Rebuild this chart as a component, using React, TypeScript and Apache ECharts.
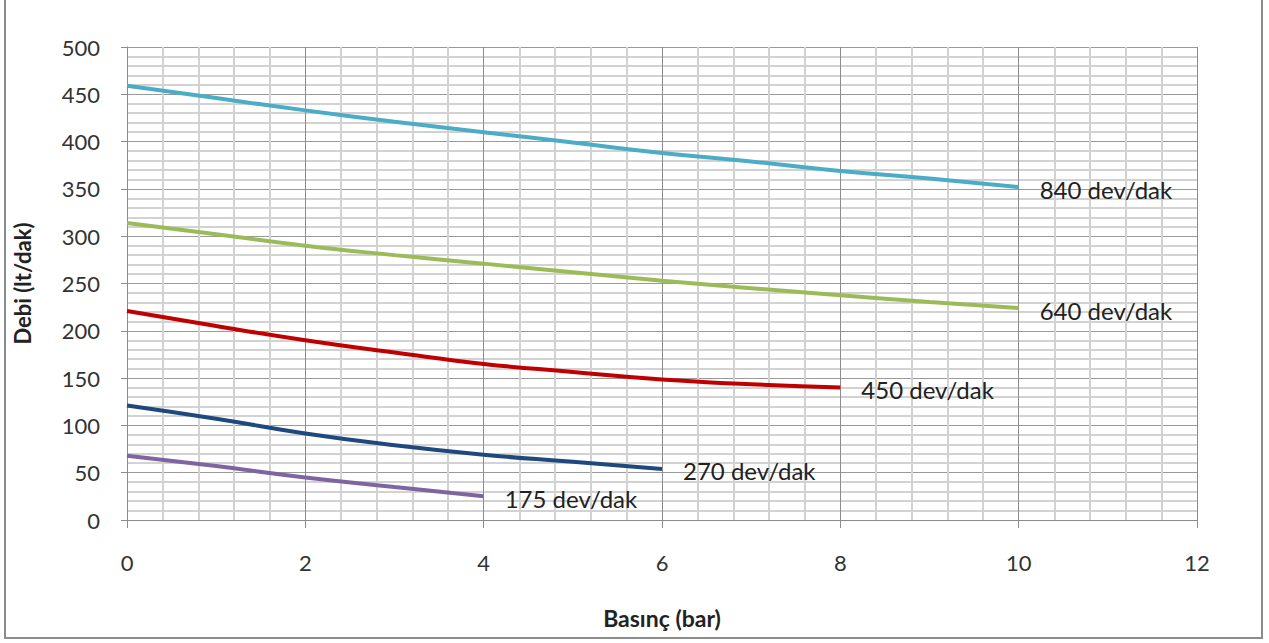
import React, { useEffect, useRef } from "react";
import * as echarts from "echarts";

const pressure = [0, 1, 2, 3, 4, 5, 6, 7, 8, 9, 10];
const rpm840 = [459, 446, 433, 421, 410, 399, 388, 379, 369, 361, 352];
const rpm640 = [314, 302, 290, 280, 271, 262, 253, 245, 237.5, 230.5, 224];
const rpm450 = [221, 205, 190, 177, 165, 156.5, 148.5, 143.5, 140];
const rpm270 = [121, 107, 91.5, 79, 69, 61.5, 54];
const rpm175 = [68, 57, 45, 35, 25];

const seriesDefs = [
  { name: "840 dev/dak", values: rpm840, color: "#4BACC6" },
  { name: "640 dev/dak", values: rpm640, color: "#9BBB59" },
  { name: "450 dev/dak", values: rpm450, color: "#C00000" },
  { name: "270 dev/dak", values: rpm270, color: "#1F497D" },
  { name: "175 dev/dak", values: rpm175, color: "#8064A2" },
];

const FONT = "Lato";

export default function App() {
  const ref = useRef<HTMLDivElement>(null);
  useEffect(() => {
    if (!ref.current) return;
    const chart = echarts.init(ref.current, null, { renderer: "svg" });
    chart.setOption({
      animation: false,
      backgroundColor: "#ffffff",
      textStyle: { fontFamily: FONT },
      graphic: [
        {
          type: "rect",
          shape: { x: 5, y: -10, width: 1257, height: 648 },
          style: { fill: "none", stroke: "#8c8c8c", lineWidth: 2 },
          silent: true,
        },
      ],
      grid: { left: 127, right: 72, top: 47, bottom: 123, containLabel: false },
      xAxis: {
        type: "value",
        min: 0,
        max: 12,
        interval: 2,
        name: "Basınç (bar)",
        nameLocation: "middle",
        nameGap: 86,
        nameTextStyle: { fontFamily: FONT, fontWeight: "bold", fontSize: 23, color: "#222" },
        axisLine: { show: true, lineStyle: { color: "#8c8c8c", width: 1 } },
        axisTick: { show: true, length: 8, lineStyle: { color: "#8c8c8c" } },
        axisLabel: { fontFamily: FONT, fontSize: 22, color: "#333", margin: 31 },
        splitLine: { show: true, lineStyle: { color: "#8c8c8c", width: 1 } },
        minorTick: { show: false, splitNumber: 5 },
        minorSplitLine: { show: true, lineStyle: { color: "#d2d2d2", width: 2 } },
      },
      yAxis: {
        type: "value",
        min: 0,
        max: 500,
        interval: 50,
        name: "Debi (lt/dak)",
        nameLocation: "middle",
        nameGap: 94,
        nameRotate: 90,
        nameTextStyle: { fontFamily: FONT, fontWeight: "bold", fontSize: 22, color: "#222" },
        axisLine: { show: true, lineStyle: { color: "#8c8c8c", width: 1 } },
        axisTick: { show: true, length: 6, lineStyle: { color: "#8c8c8c" } },
        axisLabel: { fontFamily: FONT, fontSize: 22, color: "#333", margin: 27 },
        splitLine: { show: true, lineStyle: { color: "#9a9a9a", width: 1 } },
        minorTick: { show: false, splitNumber: 5 },
        minorSplitLine: { show: true, lineStyle: { color: "#d2d2d2", width: 2 } },
      },
      series: seriesDefs.map((s) => ({
        type: "line",
        name: s.name,
        data: s.values.map((v, i) => [pressure[i], v]),
        smooth: true,
        showSymbol: false,
        symbol: "none",
        lineStyle: { color: s.color, width: 4 },
        itemStyle: { color: s.color },
        endLabel: {
          show: true,
          formatter: s.name,
          distance: 21,
          offset: [0, 2],
          fontFamily: FONT,
          fontSize: 24,
          color: "#222",
        },
      })),
    });
    return () => chart.dispose();
  }, []);
  return (
    <div
      ref={ref}
      style={{ position: "fixed", left: 0, top: 0, width: 1269, height: 643 }}
    />
  );
}
